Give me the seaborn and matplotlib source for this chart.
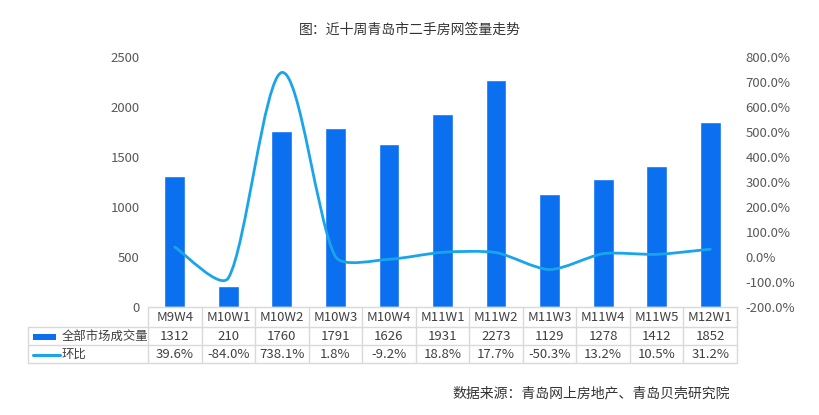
import matplotlib
matplotlib.use("Agg")
import matplotlib.pyplot as plt
import seaborn as sns
import numpy as np
import pandas as pd
from matplotlib.path import Path
from matplotlib.patches import PathPatch, Rectangle
from matplotlib.lines import Line2D
from matplotlib import transforms
from matplotlib.ticker import FuncFormatter, MultipleLocator

categories = ["M9W4", "M10W1", "M10W2", "M10W3", "M10W4", "M11W1", "M11W2", "M11W3", "M11W4", "M11W5", "M12W1"]
volume = [1312, 210, 1760, 1791, 1626, 1931, 2273, 1129, 1278, 1412, 1852]
pct = [39.6, -84.0, 738.1, 1.8, -9.2, 18.8, 17.7, -50.3, 13.2, 10.5, 31.2]
pct_labels = ["39.6%", "-84.0%", "738.1%", "1.8%", "-9.2%", "18.8%", "17.7%", "-50.3%", "13.2%", "10.5%", "31.2%"]
series_names = ["全部市场成交量", "环比"]
title = "图：近十周青岛市二手房网签量走势"
source = "数据来源：青岛网上房地产、青岛贝壳研究院"

BAR_C = "#0A70F0"
LINE_C = "#1AA5EA"
TXT_C = "#404040"
GRID_C = "#D9D9D9"

sns.set_theme(style="white")
plt.rcParams["font.family"] = ["Noto Sans CJK SC", "DejaVu Sans"]

W, H = 820, 415
fig = plt.figure(figsize=(W / 100, H / 100), dpi=100)
left_px, right_px, top_px, bot_px = 148, 737, 57, 307
ax = fig.add_axes([left_px / W, 1 - bot_px / H, (right_px - left_px) / W, (bot_px - top_px) / H])

df = pd.DataFrame({"cat": categories, "vol": volume})
sns.barplot(data=df, x="cat", y="vol", color=BAR_C, saturation=1, width=0.39, ax=ax)
ax.set_xlim(-0.5, len(categories) - 0.5)
ax.set_ylim(0, 2500)
ax.yaxis.set_major_locator(MultipleLocator(500))
ax.set_xlabel("")
ax.set_ylabel("")
ax.set_xticks([])
for s in ["top", "left", "right"]:
    ax.spines[s].set_visible(False)
ax.spines["bottom"].set_color(GRID_C)
ax.spines["bottom"].set_linewidth(1)
ax.tick_params(axis="y", length=0, pad=6, labelsize=9.5, labelcolor="#595959")

ax2 = ax.twinx()
ax2.set_ylim(-200, 800)
ax2.yaxis.set_major_locator(MultipleLocator(100))
ax2.yaxis.set_major_formatter(FuncFormatter(lambda v, p: f"{v:.1f}%"))
for s in ["top", "left", "right", "bottom"]:
    ax2.spines[s].set_visible(False)
ax2.tick_params(axis="y", length=0, pad=6, labelsize=9.5, labelcolor="#595959")

# smoothed line: Catmull-Rom bezier through the data points (display space),
# with handle lengths limited by the adjacent segment length (Excel-like)
fig.canvas.draw()
xs = np.arange(len(pct), dtype=float)
ys = np.array(pct, dtype=float)
D = ax2.transData.transform(np.column_stack([xs, ys]))
n = len(D)
CLAMP = 0.25
cr = []
for i in range(n):
    a = D[i - 1] if i > 0 else D[i]
    b = D[i + 1] if i + 1 < n else D[i]
    cr.append((b - a) / 6.0)

def limited(h, seg_len):
    ln = np.hypot(*h)
    lim = CLAMP * seg_len
    return h * (lim / ln) if ln > lim and ln > 0 else h

verts_disp = [D[0]]
codes = [Path.MOVETO]
for i in range(n - 1):
    L = np.hypot(*(D[i + 1] - D[i]))
    c1 = D[i] + limited(cr[i], L)
    c2 = D[i + 1] - limited(cr[i + 1], L)
    verts_disp += [c1, c2, D[i + 1]]
    codes += [Path.CURVE4] * 3
verts = ax2.transData.inverted().transform(np.array(verts_disp))
ax2.add_patch(PathPatch(Path(verts, codes), facecolor="none", edgecolor=LINE_C, lw=2.0,
                        capstyle="round", joinstyle="round"))

# data table
blend = transforms.blended_transform_factory(ax.transData, fig.transFigure)
def fy(px):
    return 1 - px / H

row_y = [307, 327, 345, 363]
tbl_left = 28
for y in row_y[1:]:
    fig.add_artist(Line2D([tbl_left / W, right_px / W], [fy(y), fy(y)], transform=fig.transFigure,
                          color=GRID_C, lw=1))
fig.add_artist(Line2D([tbl_left / W, tbl_left / W], [fy(327), fy(363)], transform=fig.transFigure,
                      color=GRID_C, lw=1))
for i in range(len(categories) + 1):
    fig.add_artist(Line2D([i - 0.5, i - 0.5], [fy(307), fy(363)], transform=blend, color=GRID_C, lw=1))

for i, c in enumerate(categories):
    fig.text(i, fy(317.5), c, transform=blend, ha="center", va="center", fontsize=9.5, color=TXT_C)
    fig.text(i, fy(336.5), str(volume[i]), transform=blend, ha="center", va="center", fontsize=9.5, color=TXT_C)
    fig.text(i, fy(354.5), pct_labels[i], transform=blend, ha="center", va="center", fontsize=9.5, color=TXT_C)

fig.add_artist(Rectangle((33 / W, fy(339.5)), 23 / W, 6 / H, transform=fig.transFigure,
                         facecolor=BAR_C, edgecolor="none"))
fig.add_artist(Line2D([33 / W, 60 / W], [fy(354.5), fy(354.5)], transform=fig.transFigure,
                      color=LINE_C, lw=2.2))
fig.text(62 / W, fy(336.5), series_names[0], ha="left", va="center", fontsize=8.9, color=TXT_C)
fig.text(62 / W, fy(354.5), series_names[1], ha="left", va="center", fontsize=8.9, color=TXT_C)

fig.text(410 / W, fy(30), title, ha="center", va="center", fontsize=10, color="#333333")
fig.text(730 / W, fy(393), source, ha="right", va="center", fontsize=10, color="#333333")

fig.savefig("out.png", dpi=100, facecolor="white")
